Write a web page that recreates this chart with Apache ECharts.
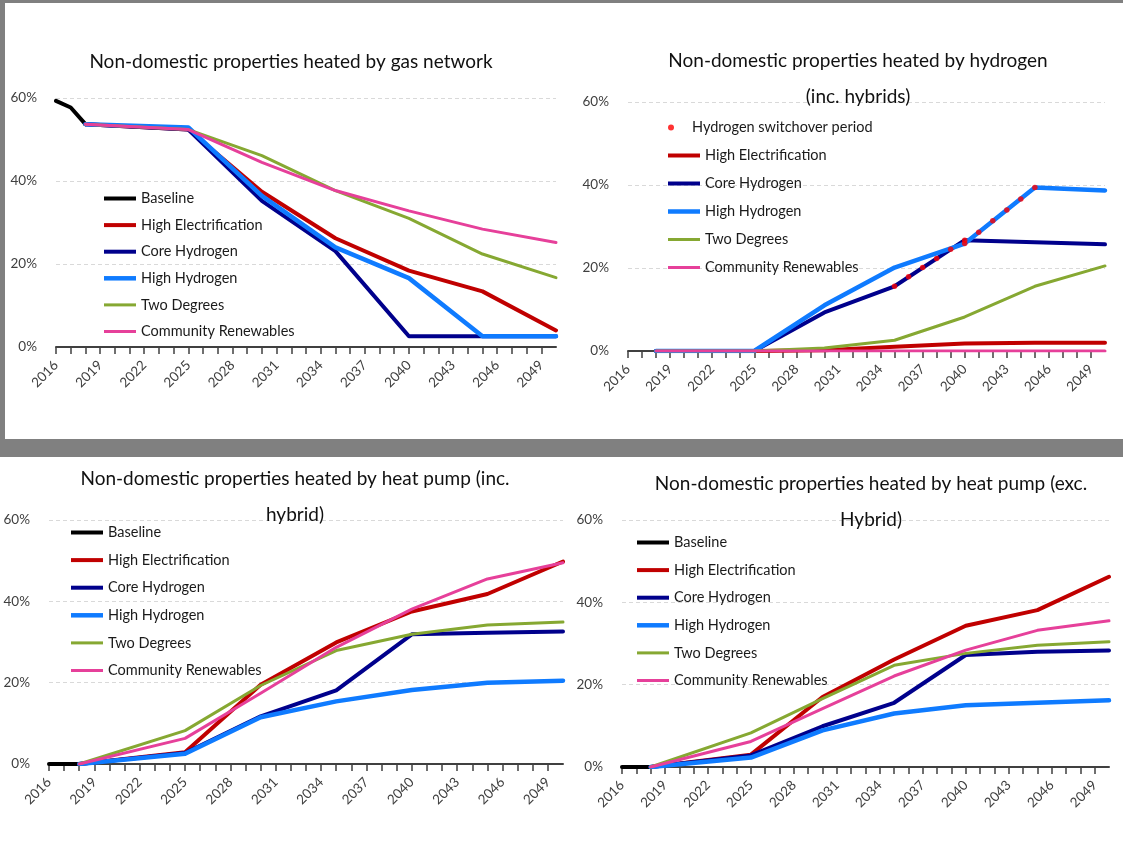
<!DOCTYPE html>
<html>
<head>
<meta charset="utf-8">
<script src="https://cdn.jsdelivr.net/npm/echarts@6/dist/echarts.min.js"></script>
<style>
  html, body { margin: 0; padding: 0; background: #ffffff; }
  #chart { width: 1123px; height: 854px; }
</style>
</head>
<body>
<div id="chart"></div>
<script>
// Years at which each scenario changes slope, and the historic baseline years
const scenarioYears = [2018, 2025, 2030, 2035, 2040, 2045, 2050];
const baselineYears = [2016, 2017, 2018];

// Share of non-domestic properties (%) heated by the gas network
const gasBaseline = [59.3, 57.7, 53.7];
const gasHighElec = [53.7, 52.4, 37.4, 26.2, 18.4, 13.4, 4.0];
const gasCoreH2 = [53.7, 52.4, 35.2, 23.1, 2.6, 2.6, 2.6];
const gasHighH2 = [53.7, 52.9, 36.4, 24.0, 16.6, 2.6, 2.6];
const gasTwoDeg = [53.7, 52.4, 46.1, 37.7, 31.0, 22.4, 16.7];
const gasCommRen = [53.7, 52.4, 44.5, 37.7, 32.8, 28.4, 25.2];

// Heated by hydrogen (inc. hybrids)
const h2HighElec = [0, 0, 0.2, 1.0, 1.8, 2.0, 2.0];
const h2CoreH2 = [0, 0, 9.3, 15.6, 26.7, 26.2, 25.7];
const h2HighH2 = [0, 0, 11.0, 20.1, 25.9, 39.4, 38.7];
const h2TwoDeg = [0, 0, 0.7, 2.6, 8.2, 15.6, 20.5];
const h2CommRen = [0, 0, 0, 0, 0, 0, 0];
const switchYears = [2035, 2036, 2037, 2038, 2039, 2040, 2040, 2041, 2042, 2043, 2044, 2045];
const switchValues = [15.6, 17.9, 20.1, 22.3, 24.5, 26.7, 25.9, 28.6, 31.4, 34.0, 36.6, 39.4];

// Heated by heat pump (inc. hybrid)
const hpBaseline = [0, 0, 0];
const hpHighElec = [0, 2.9, 19.5, 29.9, 37.5, 41.8, 49.8];
const hpCoreH2 = [0, 2.7, 11.7, 18.1, 31.9, 32.3, 32.6];
const hpHighH2 = [0, 2.5, 11.5, 15.4, 18.2, 20.0, 20.5];
const hpTwoDeg = [0, 8.2, 19.3, 27.9, 31.9, 34.2, 34.9];
const hpCommRen = [0, 6.3, 17.4, 28.7, 38.1, 45.5, 49.5];

// Heated by heat pump (exc. hybrid)
const hpxBaseline = [0, 0, 0];
const hpxHighElec = [0, 3.0, 17.0, 26.1, 34.3, 38.1, 46.2];
const hpxCoreH2 = [0, 2.8, 9.9, 15.6, 27.2, 28.0, 28.3];
const hpxHighH2 = [0, 2.3, 8.9, 13.0, 15.0, 15.6, 16.2];
const hpxTwoDeg = [0, 8.3, 16.6, 24.7, 27.6, 29.6, 30.4];
const hpxCommRen = [0, 6.2, 14.2, 22.1, 28.4, 33.2, 35.5];

const yTicks = [0, 20, 40, 60];
const FONT = 'Lato, "Open Sans", sans-serif';

const STYLE = {
  'Baseline': { color: '#000000', width: 4 },
  'High Electrification': { color: '#C00000', width: 4 },
  'Core Hydrogen': { color: '#00008C', width: 4 },
  'High Hydrogen': { color: '#0F7BFF', width: 4.5 },
  'Two Degrees': { color: '#86A832', width: 3 },
  'Community Renewables': { color: '#E6409A', width: 3 }
};

function pairs(xs, ys) { return xs.map((x, i) => [x, ys[i]]); }

function line(name, idx, xs, ys) {
  const s = STYLE[name];
  return {
    type: 'line', name: name, xAxisIndex: idx, yAxisIndex: idx,
    data: pairs(xs, ys), symbol: 'none', showSymbol: false,
    lineStyle: { color: s.color, width: s.width, cap: 'round', join: 'round' },
    itemStyle: { color: s.color }, silent: true
  };
}

// Legend key: a short bar as thick as the series line
function legendItem(name) {
  const w = STYLE[name].width;
  return {
    name: name,
    icon: 'path://M0,0L32,0L32,' + w + 'L0,' + w + 'Z',
    itemStyle: { color: STYLE[name].color }
  };
}

const panels = [
  { grid: { left: 56, top: 98, width: 500, height: 249 },
    title: { text: 'Non-domestic properties heated by gas network', x: 286, y: 39 },
    legend: { left: 99, top: 186, gap: 11.6 },
    baseline: gasBaseline,
    lines: [gasHighElec, gasCoreH2, gasHighH2, gasTwoDeg, gasCommRen] },
  { grid: { left: 628, top: 102, width: 477, height: 249 },
    title: { text: 'Non-domestic properties heated by hydrogen\n(inc. hybrids)', x: 853, y: 38 },
    legend: { left: 663, top: 143, gap: 13 },
    baseline: null,
    lines: [h2HighElec, h2CoreH2, h2HighH2, h2TwoDeg, h2CommRen] },
  { grid: { left: 49, top: 520, width: 514, height: 244 },
    title: { text: 'Non-domestic properties heated by heat pump (inc.\nhybrid)', x: 290, y: 456 },
    legend: { left: 66, top: 520, gap: 12.6 },
    baseline: hpBaseline,
    lines: [hpHighElec, hpCoreH2, hpHighH2, hpTwoDeg, hpCommRen] },
  { grid: { left: 622, top: 520, width: 487, height: 247 },
    title: { text: 'Non-domestic properties heated by heat pump (exc.\nHybrid)', x: 866, y: 461 },
    legend: { left: 632, top: 530, gap: 12.6 },
    baseline: hpxBaseline,
    lines: [hpxHighElec, hpxCoreH2, hpxHighH2, hpxTwoDeg, hpxCommRen] }
];

const scenarioNames = ['High Electrification', 'Core Hydrogen', 'High Hydrogen', 'Two Degrees', 'Community Renewables'];

const grids = [], xAxes = [], yAxes = [], titles = [], legends = [], series = [];

panels.forEach((p, i) => {
  grids.push(Object.assign({ containLabel: false }, p.grid));
  xAxes.push({
    type: 'value', gridIndex: i, min: 2016, max: 2050, interval: 1,
    axisLine: { show: true, lineStyle: { color: '#404040', width: 2 } },
    axisTick: { show: true, length: 7, lineStyle: { color: '#404040', width: 1.5 } },
    splitLine: { show: false },
    axisLabel: {
      rotate: 45, margin: 16, fontFamily: FONT, fontSize: 13.5, color: '#404040',
      showMaxLabel: false,
      formatter: v => ((v - 2016) % 3 === 0 ? String(v) : '')
    }
  });
  yAxes.push({
    type: 'value', gridIndex: i, min: yTicks[0], max: yTicks[yTicks.length - 1], interval: 20,
    axisLine: { show: false }, axisTick: { show: false },
    splitLine: { show: true, lineStyle: { color: '#D9D9D9', type: [4, 3], width: 1 } },
    axisLabel: { margin: 19, fontFamily: FONT, fontSize: 13.5, color: '#404040', formatter: v => v + '%' }
  });
  titles.push({
    text: p.title.text, left: p.title.x, top: p.title.y, textAlign: 'center',
    textStyle: { fontFamily: FONT, fontSize: 19, fontWeight: 'normal', color: '#111111', lineHeight: 36 }
  });

  const names = p.baseline ? ['Baseline'].concat(scenarioNames) : scenarioNames.slice();
  legends.push({
    orient: 'vertical', left: p.legend.left, top: p.legend.top, itemGap: p.legend.gap,
    itemWidth: 32, itemHeight: 14, data: names.map(legendItem), selectedMode: false,
    textStyle: { fontFamily: FONT, fontSize: 14.5, color: '#1a1a1a' }
  });

  if (p.baseline) series.push(line('Baseline', i, baselineYears, p.baseline));
  scenarioNames.forEach((n, k) => series.push(line(n, i, scenarioYears, p.lines[k])));
});

// Red dotted markers showing when buildings switch over to hydrogen
series.push({
  type: 'scatter', name: 'Hydrogen switchover period', xAxisIndex: 1, yAxisIndex: 1,
  data: pairs(switchYears, switchValues), symbol: 'circle', symbolSize: 5.5,
  itemStyle: { color: '#FF0000' }, z: 5, silent: true
});
legends.push({
  orient: 'vertical', left: 663, top: 115, itemWidth: 32, itemHeight: 6,
  data: [{ name: 'Hydrogen switchover period', icon: 'circle' }], selectedMode: false,
  textStyle: { fontFamily: FONT, fontSize: 14.5, color: '#1a1a1a' }
});

const chart = echarts.init(document.getElementById('chart'), null, { renderer: 'canvas' });
chart.setOption({
  animation: false,
  backgroundColor: '#ffffff',
  graphic: [
    { type: 'rect', shape: { x: 0, y: 0, width: 1123, height: 3 }, style: { fill: '#808080' }, silent: true },
    { type: 'rect', shape: { x: 0, y: 0, width: 5, height: 440 }, style: { fill: '#808080' }, silent: true },
    { type: 'rect', shape: { x: 0, y: 439, width: 1123, height: 18 }, style: { fill: '#808080' }, silent: true }
  ],
  title: titles,
  legend: legends,
  grid: grids,
  xAxis: xAxes,
  yAxis: yAxes,
  series: series
});
</script>
</body>
</html>
